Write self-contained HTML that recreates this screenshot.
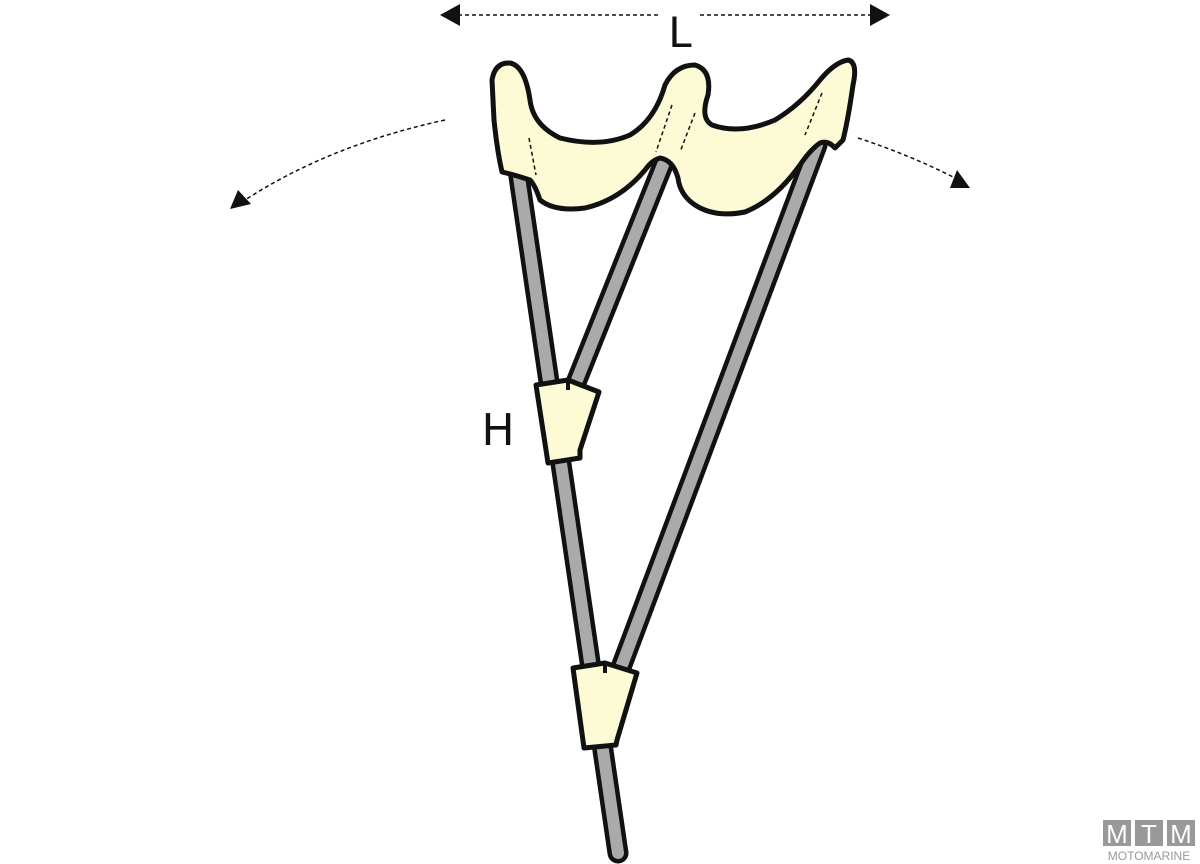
<!DOCTYPE html>
<html><head><style>html,body{margin:0;padding:0;background:#fff;width:1200px;height:864px;overflow:hidden}</style></head>
<body>
<svg width="1200" height="864" viewBox="0 0 1200 864" xmlns="http://www.w3.org/2000/svg">
<!-- L arrow -->
<line x1="458" y1="15" x2="660" y2="15" stroke="#111" stroke-width="1.5" stroke-dasharray="4,3"/>
<line x1="700" y1="15" x2="872" y2="15" stroke="#111" stroke-width="1.5" stroke-dasharray="4,3"/>
<path d="M440,15 L460,4 L460,26 z" fill="#111"/>
<path d="M890,15 L870,4 L870,26 z" fill="#111"/>
<text x="680" y="47" font-family="DejaVu Sans, sans-serif" font-size="42" text-anchor="middle" fill="#111">L</text>
<!-- curved arrows -->
<path d="M445,120 Q330,145 245,200" fill="none" stroke="#111" stroke-width="1.5" stroke-dasharray="4,3"/>
<path d="M230,209 L238,190 L251,204 z" fill="#111"/>
<path d="M858,138 Q910,155 955,178" fill="none" stroke="#111" stroke-width="1.5" stroke-dasharray="4,3"/>
<path d="M970,188 L950,188 L957,170 z" fill="#111"/>
<text x="498" y="445" font-family="DejaVu Sans, sans-serif" font-size="44" text-anchor="middle" fill="#111">H</text>
<!-- rods -->
<g stroke-linecap="round">
<line x1="518" y1="170" x2="618" y2="853" stroke="#111" stroke-width="21"/>
<line x1="518" y1="170" x2="618" y2="853" stroke="#aaa" stroke-width="12"/>
<line x1="665" y1="160" x2="575" y2="385" stroke="#111" stroke-width="21"/>
<line x1="665" y1="160" x2="575" y2="385" stroke="#aaa" stroke-width="12"/>
<line x1="817" y1="145" x2="620" y2="670" stroke="#111" stroke-width="21"/>
<line x1="817" y1="145" x2="620" y2="670" stroke="#aaa" stroke-width="12"/>
</g>
<!-- seat -->
<path d="M492,80 Q495,62 510,63 Q525,66 530,100 Q533,125 560,138 Q600,148 630,135 Q655,120 665,85 Q675,65 695,65 Q712,70 708,95 Q700,118 712,125 Q740,135 775,120 Q800,105 820,80 Q835,62 848,60 Q858,62 853,85 Q848,120 843,140 L835,148 Q828,140 820,143 Q810,150 800,165 Q775,200 745,212 Q715,218 695,205 Q680,195 678,178 Q673,160 660,158 Q652,160 645,170 Q620,200 585,208 Q555,212 540,200 Q535,185 530,180 Q515,175 502,172 Q497,150 494,120 Z" fill="#fdfbd6" stroke="#111" stroke-width="5" stroke-linejoin="round"/>
<g stroke="#111" stroke-width="1.5" stroke-dasharray="4,3" fill="none">
<line x1="529" y1="138" x2="536" y2="175"/>
<line x1="672" y1="105" x2="656" y2="152"/>
<line x1="695" y1="113" x2="680" y2="152"/>
<line x1="822" y1="93" x2="805" y2="135"/>
</g>
<!-- collars -->
<path d="M536,385 L568,380 L599,392 L580,450 L580,458 L548,463 Z" fill="#fdfbd6" stroke="#111" stroke-width="5" stroke-linejoin="round"/>
<line x1="568" y1="380" x2="568" y2="390" stroke="#111" stroke-width="4"/>
<path d="M573,668 L605,663 L637,673 L617,740 L616,745 L584,748 Z" fill="#fdfbd6" stroke="#111" stroke-width="5" stroke-linejoin="round"/>
<line x1="605" y1="663" x2="605" y2="673" stroke="#111" stroke-width="4"/>
<!-- logo -->
<g font-family="Liberation Sans, sans-serif" fill="#fff">
<rect x="1103" y="820" width="28" height="26" fill="#999"/>
<rect x="1135" y="820" width="28" height="26" fill="#999"/>
<rect x="1167" y="820" width="28" height="26" fill="#999"/>
<text x="1117" y="843" font-size="26" text-anchor="middle">M</text>
<text x="1149" y="843" font-size="26" text-anchor="middle">T</text>
<text x="1181" y="843" font-size="26" text-anchor="middle">M</text>
<text x="1149" y="860" font-size="12" text-anchor="middle" fill="#999">MOTOMARINE</text>
</g>
</svg>
</body></html>
